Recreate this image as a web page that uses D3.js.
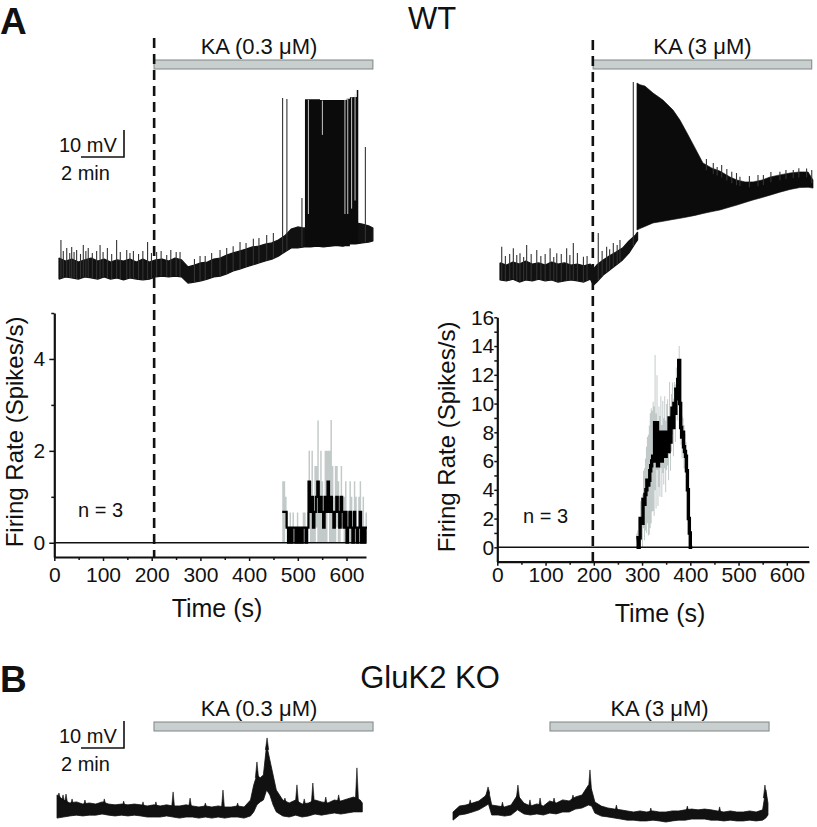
<!DOCTYPE html>
<html><head><meta charset="utf-8">
<script src="https://cdn.jsdelivr.net/npm/d3@7/dist/d3.min.js"></script>
<style>
body{margin:0;background:#fff}
text{font-family:"Liberation Sans",Arial,Helvetica,sans-serif;fill:#111}
</style>
</head><body>
<svg id="c" width="817" height="827"></svg>
<script>
// ---------------- DATA ----------------
// Top WT trace, KA 0.3 uM (time in min, membrane potential in mV rel. to baseline)
const A1_t  = [0,0.3,0.6,0.9,1.2,1.5,1.8,2.1,2.4,2.7,3.0,3.3,3.6,3.9,4.2,4.5,4.8,5.1,5.4,5.7,6.0,6.3,6.6,6.9,7.2,7.5,7.8,8.1,8.4,8.7,9.0,9.3,9.6,9.9,10.2,10.5,10.8,11.1,11.4,11.7,12.0,12.3,12.6,12.9,13.2,13.5,13.8,14.1,14.4,14.6];
const A1_hi = [3.7,2.6,3.3,2.2,3.0,3.7,2.6,3.3,2.2,3.0,2.6,3.3,2.2,3.3,2.2,3.0,3.3,2.6,3.7,3.0,0.4,1.1,1.9,2.2,3.3,3.7,4.8,5.6,6.3,7.0,7.8,8.1,8.9,9.3,10.4,11.9,14.4,15.2,14.8,15.6,15.9,15.6,16.3,16.7,16.3,17.0,16.7,16.3,15.6,14.8];
const A1_lo = [-4.1,-3.3,-3.7,-4.1,-3.3,-3.7,-4.1,-3.3,-4.1,-3.7,-4.4,-3.7,-4.1,-4.4,-4.1,-3.3,-3.0,-3.3,-3.0,-3.3,-5.6,-5.2,-4.8,-4.1,-3.3,-3.0,-2.2,-1.1,-0.4,0.4,1.1,1.9,2.6,3.3,4.4,5.9,7.4,7.4,7.8,7.8,8.1,7.8,8.1,8.5,8.1,8.9,8.9,9.3,9.6,10.0];
const A1_spikeT = [0.09,0.2,0.36,0.5,0.59,0.7,0.82,1.0,1.13,1.25,1.36,1.55,1.75,1.91,2.05,2.25,2.45,2.68,2.85,3.15,3.3,3.46,3.7,3.9,4.12,4.3,4.54,4.75,5.01,5.2,5.45,5.63,6.3,6.56,6.8,7.1,7.49,7.8,8.1,8.42,8.7,9.04,9.3,9.66,9.97,10.4,10.6,11.3,14.25];
const A1_spikeV = [10.4,6.3,7.4,5.6,7.8,5.9,6.7,5.2,8.5,6.3,7.4,5.6,6.3,8.5,5.9,7.4,5.2,10.4,5.9,6.7,5.6,6.3,5.2,6.3,9.6,5.6,5.9,6.3,4.8,6.7,5.9,5.9,3.3,4.4,4.4,5.6,6.7,7.4,8.1,9.6,9.3,10.8,11.1,12.2,13.0,63.0,62.6,25.9,44.8];
const A1_burstT   = [11.44,11.83,12.14,12.76,13.38,13.53,13.69,13.85,13.92];
const A1_burstTop = [62.5,62.5,62.2,62.2,62.7,63.2,63.3,65.9,66.5];
const A1_burstBot = [7.8,7.8,8.1,8.1,8.1,8.9,8.9,8.9,9.3];
const A1_gapT   = [11.6,12.25,13.3,13.43,13.61,13.77];
const A1_gapBot = [20,49.3,20,20,22,25];

// Top WT trace, KA 3 uM
const A2_t  = [0,0.3,0.6,0.9,1.2,1.5,1.8,2.1,2.4,2.7,3.0,3.3,3.6,3.9,4.2,4.35,4.5,4.8,5.1,5.4,5.7,6.0,6.3,6.4];
const A2_hi = [3.0,2.2,3.3,2.6,3.7,2.6,3.0,2.2,3.3,2.6,3.0,2.2,2.6,1.9,2.6,0.7,2.2,4.1,5.6,7.0,8.5,11.1,13.3,14.4];
const A2_lo = [-3.3,-3.7,-3.0,-4.1,-3.3,-3.7,-3.0,-3.7,-3.3,-4.1,-3.7,-3.3,-3.7,-4.1,-3.0,-5.2,-4.1,-1.5,0.4,2.2,4.1,6.7,10.4,11.5];
const A2_burstT   = [6.37,6.51,6.74,7.12,7.58,8.05,8.37,8.70,9.07,9.44,9.86,10.23,10.70,11.02,11.40,11.77,12.19,12.56,13.02,13.49,13.95,14.33,14.56];
const A2_burstTop = [69.6,69.0,68.5,65.9,63.3,59.6,55.9,51.1,45.6,40.0,38.1,37.0,34.8,33.7,33.0,33.0,33.7,34.8,35.6,36.3,36.7,36.7,33.7];
const A2_burstBot = [15.2,15.7,16.5,17.8,18.4,19.1,19.5,20.0,20.6,21.3,22.0,22.6,23.7,24.4,25.4,26.3,27.2,28.1,29.2,30.2,30.9,31.0,30.7];
const A2_spikeT = [0.08,0.25,0.45,0.62,0.78,0.93,1.1,1.24,1.45,1.71,1.9,2.1,2.33,2.5,2.64,2.85,3.1,3.25,3.41,3.6,3.88,4.05,4.57,4.75,4.96,5.1,5.27,5.45,5.58,6.2,9.6,9.92,10.1,10.31,10.55,10.78,11.0,11.16,11.6,12.0,12.25,12.6,13.02,13.3,13.64,13.9,14.26,14.5];
const A2_spikeV = [9.0,5.6,6.3,8.4,5.9,6.6,5.2,9.6,6.3,7.8,5.6,6.3,8.4,5.2,6.6,6.3,8.4,5.9,10.4,6.7,5.3,5.6,14.1,7.4,9.0,8.1,10.4,9.6,11.5,70.0,41.5,40.0,38.5,39.3,37.8,36.8,36.3,34.9,35.2,35.6,35.6,36.7,36.8,37.4,37.4,38.1,38.0,37.4];

// GluK2 KO traces
const B1_t  = [0,0.3,0.6,0.9,1.2,1.5,1.8,2.1,2.4,2.7,3.0,3.3,3.6,3.9,4.2,4.5,4.8,5.1,5.4,5.7,6.0,6.3,6.6,6.9,7.2,7.5,7.8,8.1,8.4,8.7,9.0,9.15,9.3,9.45,9.6,9.75,9.9,10.05,10.2,10.5,10.8,11.1,11.4,11.7,12.0,12.3,12.6,12.9,13.2,13.5,13.8,14.1,14.2];
const B1_hi = [5.6,3.7,2.6,3.0,2.2,2.6,2.2,3.0,2.2,1.9,2.2,1.9,2.2,1.9,1.5,1.9,1.5,1.9,1.5,1.5,1.9,1.5,1.1,1.5,1.1,1.5,1.1,1.1,1.5,1.1,3.7,9.3,13.0,11.9,13.0,24.1,18.5,13.0,7.4,3.7,2.6,3.7,2.2,2.6,3.7,3.0,2.6,3.7,3.3,4.1,4.8,3.7,2.6];
const B1_lo = [-3.0,-2.6,-2.2,-1.9,-2.2,-1.9,-1.9,-1.5,-1.9,-2.2,-1.9,-2.2,-1.9,-2.2,-2.6,-2.6,-2.6,-2.2,-2.6,-3.0,-2.6,-2.6,-3.0,-2.6,-3.0,-2.6,-3.0,-2.6,-2.6,-3.0,-2.2,-0.7,1.9,3.0,3.7,7.4,5.6,1.9,-0.7,-2.2,-2.6,-1.9,-2.6,-2.2,-1.5,-1.9,-1.5,-1.1,-1.5,-1.1,-0.7,-0.7,-0.7];
const B1_spikeT = [0.09,0.28,0.42,0.7,1.3,2.2,3.1,4.0,4.6,5.4,6.19,6.9,7.72,8.4,9.3,9.77,10.6,11.16,11.5,11.9,12.5,13.1,13.95];
const B1_spikeV = [6.3,5.6,5.9,4.1,3.7,4.1,3.3,3.0,3.0,6.7,4.4,2.6,7.4,2.6,17.8,26.7,4.4,9.3,4.1,10.0,4.8,5.6,15.6];

const B2_t  = [0,0.3,0.6,0.9,1.2,1.5,1.65,1.8,2.1,2.4,2.7,3.0,3.3,3.6,3.9,4.2,4.5,4.8,5.1,5.4,5.7,6.0,6.3,6.45,6.6,6.9,7.2,7.5,7.8,8.1,8.4,8.7,9.0,9.3,9.6,9.9,10.2,10.5,10.8,11.1,11.4,11.7,12.0,12.3,12.6,12.9,13.2,13.5,13.8,14.1,14.4,14.55,14.65];
const B2_hi = [1.1,3.3,3.7,4.4,5.2,7.0,9.3,3.7,3.3,3.0,3.7,7.4,4.4,3.3,4.1,3.3,5.2,4.4,5.6,5.2,6.7,7.4,11.1,9.3,4.8,3.3,2.6,2.2,1.9,1.5,1.1,1.5,1.1,1.5,1.1,1.1,1.5,1.5,1.9,2.2,1.9,2.2,1.9,1.5,1.1,1.5,1.1,1.1,1.5,1.1,1.9,9.3,4.4];
const B2_lo = [-1.9,0,0.4,1.1,1.9,3.3,4.1,0,0,-0.4,0,1.9,0.4,0,0.4,0,0.7,0.4,1.1,1.1,2.2,2.6,3.7,3.3,0.7,-0.4,-0.7,-1.1,-1.5,-1.9,-1.9,-2.2,-2.2,-1.9,-2.2,-2.6,-2.2,-1.9,-1.9,-1.5,-1.5,-1.5,-1.9,-1.9,-2.2,-1.9,-2.2,-2.2,-1.9,-2.2,-1.9,-1.1,0];
const B2_spikeT = [0.8,1.63,2.3,3.02,3.58,4.05,4.7,5.58,6.37,7.6,9.2,10.9,12.4,14.51];
const B2_spikeV = [5.6,10.4,4.8,11.1,5.6,6.3,6.3,7.4,16.7,3.7,2.6,3.3,3.0,11.1];

// KA application bars (min, on each trace's time axis)
const kaBarsA = [[4.42,14.6],[4.33,14.5]];
const kaBarsB = [[4.51,14.7],[4.51,14.7]];
const kaLabels = ["KA (0.3 μM)","KA (3 μM)"];

// Firing rates (spikes/s), mean and SEM, n = 3
const rateL_start = 468, rateL_bin = 3;
const rateL_mean = [0.67,0.67,0.67,0.33,0,0.33,0,0.33,0.33,0,0.33,0,0.33,0,0.33,0.33,0,0.33,1.33,0.67,1,0.33,0.67,1,1.33,0.67,1,0.67,0.33,1,0.67,1.33,0.67,1,0.67,0.33,0.67,1,0.67,0.33,1,0.67,0.33,0.67,0,0.33,0.67,0.33,0,0.67,0.33,0,0.33,0.67,0,0.33,0,0.33];
const rateL_sem  = [0.67,0.67,0.33,0.33,0.33,0.33,0.33,0.33,0,0.33,0.33,0.33,0,0.33,0.33,0.33,0.33,0.33,0.67,0.67,1,0.67,1,0.67,1.33,0.67,1,0.67,0.33,1,1.33,0.67,1.33,1.67,1,0.67,1,0.67,0.67,0.67,0.67,0.33,0.67,0.67,0.33,0.33,0.67,0.67,0.67,0.67,0.67,0.33,0.67,0.67,0.33,0.67,0.33,0.33];
const rateR_start = 288, rateR_bin = 2;
const rateR_mean = [0.67,0.67,0,0.67,2,2,1.67,3.33,3,3.67,4,4.67,4.33,4.67,5.33,5.67,6,6.33,6,8.67,6,8.67,5.67,7,6.33,8,6,7.67,6.67,8,6.33,7.67,8,6.67,9,7.33,8.67,9.67,8.33,10,9.33,11,10.33,11.67,13,10,8.33,7.67,8,7,6.67,6.33,5.33,4,2,1,0,0];
const rateR_sem  = [0.3,0.5,0.3,0.8,1.2,1.5,2,2,2.5,2.5,3,3,3.5,3.8,4,4,3.5,3.8,3.8,4.7,3.3,3.3,2.8,2.8,2.8,2.5,2.5,2.5,2.3,2.5,2.5,2.3,2.3,2,2.5,2,2,1.8,2,1.5,2,1.5,1.5,1.2,1,1.5,1.2,1.5,1,1.5,1.2,1,1,1,0.8,0.5,0,0];
const kaOnsetSec = [205,198];

const xTickVals = [0,100,200,300,400,500,600];
const yTicksL = [0,2,4];
const yTicksR = [0,2,4,6,8,10,12,14,16];

// ---------------- DRAWING ----------------
const svg = d3.select("#c");
function interp(ts, vs, t){
  const i = d3.bisectRight(ts, t);
  if (i <= 0) return vs[0];
  if (i >= ts.length) return vs[vs.length-1];
  const f = (t - ts[i-1])/(ts[i]-ts[i-1]);
  return vs[i-1] + f*(vs[i]-vs[i-1]);
}
function traceScales(x0, y0){
  return {
    x: d3.scaleLinear().domain([0,2]).range([x0, x0+43]),
    y: d3.scaleLinear().domain([0,10]).range([y0, y0-27])
  };
}
function band(sc, t, hi, lo, sw){
  const idx = d3.range(t.length);
  svg.append("path")
    .attr("d", d3.area().x(i=>sc.x(t[i])).y0(i=>sc.y(lo[i])).y1(i=>sc.y(hi[i]))(idx))
    .attr("fill","#111").attr("stroke","#111").attr("stroke-width",sw).attr("stroke-linejoin","bevel");
}
function lineSpikes(sc, st, sv, baseFn){
  st.forEach((t,i)=>{
    svg.append("line").attr("x1",sc.x(t)).attr("x2",sc.x(t))
      .attr("y1",sc.y(baseFn(t))).attr("y2",sc.y(sv[i]))
      .attr("stroke","#333").attr("stroke-width",1.1);
  });
}
function peakSpikes(sc, st, sv, baseFn){
  st.forEach((t,i)=>{
    const x = sc.x(t), yb = sc.y(baseFn(t)), yp = sc.y(sv[i]);
    svg.append("path").attr("d",`M${x-1.6},${yb}L${x},${yp}L${x+1.6},${yb}Z`)
      .attr("fill","#111").attr("stroke","#111").attr("stroke-width",0.6);
  });
}
function kaBar(sc, range, y, label, lx){
  const x0 = sc.x(range[0]), x1 = sc.x(range[1]);
  svg.append("rect").attr("x",x0).attr("y",y).attr("width",x1-x0).attr("height",9)
    .attr("fill","#c9cece").attr("stroke","#7f8686").attr("stroke-width",1);
  svg.append("text").attr("x", lx!=null?lx:(x0+x1)/2).attr("y",y-6)
    .attr("text-anchor","middle").style("font-size","22px").text(label);
}
function scaleBar(sc, xr, yb){
  const h = sc.y(0)-sc.y(10), w = sc.x(2)-sc.x(0);
  svg.append("path").attr("d",`M${xr-w},${yb}H${xr}V${yb-h}`)
    .attr("fill","none").attr("stroke","#111").attr("stroke-width",1.6);
  svg.append("text").attr("x",59).attr("y",yb-5).style("font-size","20px").text("10 mV");
  svg.append("text").attr("x",61).attr("y",yb+23).style("font-size","20px").text("2 min");
}

// Titles
svg.append("text").attr("x",0).attr("y",34).style("font-size","37px").style("font-weight","bold").text("A");
svg.append("text").attr("x",432).attr("y",29).attr("text-anchor","middle").style("font-size","31px").text("WT");
svg.append("text").attr("x",0).attr("y",692).style("font-size","37px").style("font-weight","bold").text("B");
svg.append("text").attr("x",430).attr("y",688).attr("text-anchor","middle").style("font-size","31px").text("GluK2 KO");

// ---- Rate plots ----
const xL = d3.scaleLinear().domain([0,640]).range([54.3,366]);
const yL = d3.scaleLinear().domain([-0.31,5]).range([557,313]);
const xR = d3.scaleLinear().domain([0,646]).range([497.3,809]);
const yR = d3.scaleLinear().domain([-1,16]).range([561.7,317.3]);

function ratePlot(xs, ys, start, bw, mean, sem, lw){
  const pts = mean.map((m,i)=>({t:start+i*bw, m, s:sem[i]}));
  pts.push({t:start+mean.length*bw, m:mean[mean.length-1], s:sem[sem.length-1]});
  svg.append("path")
    .attr("d", d3.area().curve(d3.curveStepAfter).x(d=>xs(d.t))
      .y0(d=>ys(Math.max(0,d.m-d.s))).y1(d=>ys(d.m+d.s))(pts))
    .attr("fill","#c2c9c9");
  svg.append("line").attr("x1",xs(0)).attr("x2",xs(xs.domain()[1]))
    .attr("y1",ys(0)).attr("y2",ys(0)).attr("stroke","#111").attr("stroke-width",1.4);
  svg.append("path")
    .attr("d", d3.line().curve(d3.curveStepAfter).x(d=>xs(d.t)).y(d=>ys(d.m))(pts))
    .attr("fill","none").attr("stroke","#000").attr("stroke-width",lw);
}
function axes(xs, ys, yTicks, yMinor, xPad, yTick, yPad){
  const yb = ys.range()[0], xl = xs.range()[0];
  const gx = svg.append("g").attr("transform",`translate(0,${yb})`)
    .call(d3.axisBottom(xs).tickValues(xTickVals).tickFormat(d3.format("d")).tickSize(4).tickPadding(xPad).tickSizeOuter(0));
  const gx2 = svg.append("g").attr("transform",`translate(0,${yb})`)
    .call(d3.axisBottom(xs).tickValues([50,150,250,350,450,550]).tickSize(3).tickFormat("").tickSizeOuter(0));
  gx2.select(".domain").remove();
  const gy = svg.append("g").attr("transform",`translate(${xl},0)`)
    .call(d3.axisLeft(ys).tickValues(yTicks).tickFormat(d3.format("d")).tickSize(yTick).tickPadding(yPad).tickSizeOuter(0));
  const gy2 = svg.append("g").attr("transform",`translate(${xl},0)`)
    .call(d3.axisLeft(ys).tickValues(yMinor).tickSize(3).tickFormat("").tickSizeOuter(0));
  gy2.select(".domain").remove();
  [gx,gy,gx2,gy2].forEach(g=>{
    g.select(".domain").attr("stroke","#111").attr("stroke-width",2.2);
    g.selectAll(".tick line").attr("stroke","#111").attr("stroke-width",1.5);
    g.selectAll(".tick text").style("font-size","21px").attr("fill","#111")
      .style("font-family",'"Liberation Sans",Arial,sans-serif');
  });
}

ratePlot(xL, yL, rateL_start, rateL_bin, rateL_mean, rateL_sem, 2.2);
ratePlot(xR, yR, rateR_start, rateR_bin, rateR_mean, rateR_sem, 3.4);
axes(xL, yL, yTicksL, [1,3,5], 6, 5, 4);
axes(xR, yR, yTicksR, [1,3,5,7,9,11,13,15], 1, 3, 0);

svg.append("text").attr("transform","translate(23,432) rotate(-90)").attr("text-anchor","middle")
  .style("font-size","24px").text("Firing Rate (Spikes/s)");
svg.append("text").attr("transform","translate(455,437) rotate(-90)").attr("text-anchor","middle")
  .style("font-size","24px").text("Firing Rate (Spikes/s)");
svg.append("text").attr("x",217).attr("y",617).attr("text-anchor","middle").style("font-size","25px").text("Time (s)");
svg.append("text").attr("x",660).attr("y",622).attr("text-anchor","middle").style("font-size","25px").text("Time (s)");
svg.append("text").attr("x",78).attr("y",517).style("font-size","20px").text("n = 3");
svg.append("text").attr("x",523).attr("y",523).style("font-size","20px").text("n = 3");

// ---- Traces ----
const sA1 = traceScales(59, 268), sA2 = traceScales(500, 271);
const sB1 = traceScales(57, 810), sB2 = traceScales(453, 815);

band(sA1, A1_t, A1_hi, A1_lo, 1.2);
lineSpikes(sA1, A1_spikeT, A1_spikeV, t=>interp(A1_t, A1_lo, t));
{
  const idx = d3.range(A1_burstT.length);
  svg.append("path").attr("d", d3.area().curve(d3.curveStepAfter).x(i=>sA1.x(A1_burstT[i]))
      .y0(i=>sA1.y(A1_burstBot[i])).y1(i=>sA1.y(A1_burstTop[i]))(idx)).attr("fill","#0b0b0b");
  A1_gapT.forEach((t,i)=>{
    svg.append("line").attr("x1",sA1.x(t)).attr("x2",sA1.x(t))
      .attr("y1",sA1.y(interp(A1_burstT,A1_burstTop,t))+0.5).attr("y2",sA1.y(A1_gapBot[i]))
      .attr("stroke","#ddd").attr("stroke-width",0.9);
  });
}
band(sA2, A2_t, A2_hi, A2_lo, 1.2);
{
  const idx = d3.range(A2_burstT.length);
  svg.append("path").attr("d", d3.area().x(i=>sA2.x(A2_burstT[i]))
      .y0(i=>sA2.y(A2_burstBot[i])).y1(i=>sA2.y(A2_burstTop[i]))(idx))
    .attr("fill","#0b0b0b").attr("stroke","#0b0b0b").attr("stroke-width",0.6);
}
lineSpikes(sA2, A2_spikeT, A2_spikeV, t => t >= A2_burstT[0] ? interp(A2_burstT,A2_burstTop,t)-2 : interp(A2_t,A2_lo,t));

band(sB1, B1_t, B1_hi, B1_lo, 0.8);
peakSpikes(sB1, B1_spikeT, B1_spikeV, t=>interp(B1_t, B1_hi, t)-1);
band(sB2, B2_t, B2_hi, B2_lo, 0.8);
peakSpikes(sB2, B2_spikeT, B2_spikeV, t=>interp(B2_t, B2_hi, t)-1);

// KA bars
kaBar(sA1, kaBarsA[0], 60, kaLabels[0], 259);
kaBar(sA2, kaBarsA[1], 60, kaLabels[1]);
kaBar(sB1, kaBarsB[0], 722, kaLabels[0], 259);
kaBar(sB2, kaBarsB[1], 722, kaLabels[1]);

// Scale bars
scaleBar(sA1, 124, 157);
scaleBar(sB1, 124, 748);

// Dashed KA onset lines
svg.append("line").attr("x1",xL(kaOnsetSec[0])).attr("x2",xL(kaOnsetSec[0]))
  .attr("y1",38).attr("y2",yL.range()[0]).attr("stroke","#111").attr("stroke-width",2.6).attr("stroke-dasharray","10,6");
svg.append("line").attr("x1",xR(kaOnsetSec[1])).attr("x2",xR(kaOnsetSec[1]))
  .attr("y1",40).attr("y2",yR.range()[0]).attr("stroke","#111").attr("stroke-width",2.6).attr("stroke-dasharray","10,6");
</script>
</body></html>
